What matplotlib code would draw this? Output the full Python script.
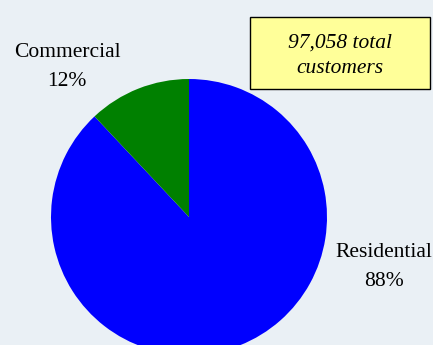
import matplotlib.pyplot as plt
from matplotlib.patches import Rectangle

plt.rcParams['font.family'] = ['Liberation Serif', 'DejaVu Serif']

labels = ['Residential', 'Commercial']
shares = [88, 12]
colors = ['#0000ff', '#008000']
total_customers = 97058

fig = plt.figure(figsize=(4.33, 3.45), dpi=100)
fig.patch.set_facecolor('#eaf0f5')
ax = fig.add_axes([0, 0, 1, 1])
ax.set_facecolor('#eaf0f5')

# pixel-like coordinates, origin bottom-left
ax.pie(shares, colors=colors, startangle=90, counterclock=False,
       center=(189, 128), radius=138, frame=True,
       wedgeprops=dict(linewidth=0))
ax.set_xlim(0, 433)
ax.set_ylim(0, 345)
ax.set_aspect('auto')
ax.axis('off')

# category labels
ax.text(384, 78, f"{labels[0]}\n{shares[0]}%", ha='center', va='center',
        fontsize=15.5, linespacing=1.75)
ax.text(67, 278, f"{labels[1]}\n{shares[1]}%", ha='center', va='center',
        fontsize=15.5, linespacing=1.75)

# note box with drop shadow
ax.add_patch(Rectangle((251, 255), 180, 72, facecolor='#444444', edgecolor='none'))
ax.add_patch(Rectangle((250, 256), 180, 72, facecolor='#ffff99', edgecolor='black', lw=1))
ax.text(340, 289, f"{total_customers:,} total\ncustomers", ha='center', va='center',
        fontsize=15.5, style='italic', linespacing=1.45)

fig.savefig('out.png', dpi=100, facecolor=fig.get_facecolor())
